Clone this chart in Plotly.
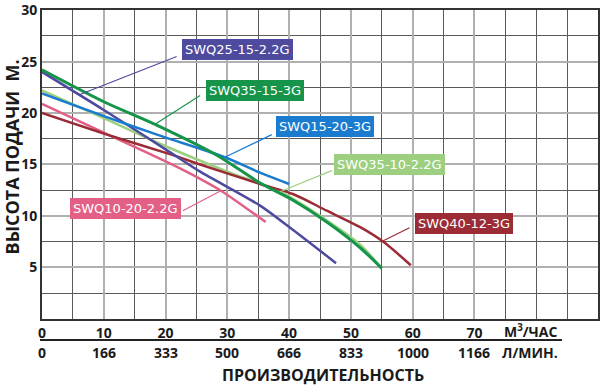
import plotly.graph_objects as go

# ---- data (flow in m3/h, head in m) ----
swq25_15_x = [0, 10, 20.7, 25.6, 35.3, 40.7, 47.6]
swq25_15_y = [24.0, 20.3, 16.2, 14.3, 11.0, 8.6, 5.4]

swq35_15_x = [0, 10, 18.3, 28.3, 35.3, 40.7, 46.1, 51.5, 55.0]
swq35_15_y = [24.2, 21.1, 18.9, 15.9, 13.2, 11.5, 9.4, 6.9, 4.9]

swq15_20_x = [0, 10, 19.1, 29.6, 35.3, 40.0]
swq15_20_y = [21.9, 19.7, 17.8, 15.7, 14.2, 13.1]

swq35_10_x = [0, 10, 20.7, 30, 38.5, 46.0, 51.5, 54.7]
swq35_10_y = [22.2, 19.5, 16.6, 14.3, 12.35, 9.6, 7.2, 5.1]

swq10_20_x = [0, 10, 20.7, 25.6, 29.1, 36.2]
swq10_20_y = [20.9, 18.1, 15.1, 13.6, 12.4, 9.4]

swq40_12_x = [0, 10, 20.7, 25.6, 35.3, 40.7, 46.1, 51.5, 55.2, 59.7]
swq40_12_y = [20.0, 18.0, 16.0, 15.0, 13.1, 12.1, 10.5, 8.9, 7.5, 5.2]

series_names = ["SWQ25-15-2.2G", "SWQ35-15-3G", "SWQ15-20-3G",
                "SWQ35-10-2.2G", "SWQ10-20-2.2G", "SWQ40-12-3G"]

flow_ticks = [0, 10, 20, 30, 40, 50, 60, 70]
flow_lmin_labels = ["0", "166", "333", "500", "666", "833", "1000", "1166"]
head_ticks = [5, 10, 15, 20, 25, 30]
unit_m3h = "М<sup>3</sup>/ЧАС"
unit_lmin = "Л/МИН."
x_title = "ПРОИЗВОДИТЕЛЬНОСТЬ"
y_title = "ВЫСОТА ПОДАЧИ  М."

# ---- styles ----
colors = ["#4e4a9e", "#16954a", "#1b7bcf", "#9ccf80", "#e35f86", "#9b2b34"]
widths = [2.5, 3, 2.5, 2.5, 2.5, 2.5]
label_pos = [(31.6, 26.15), (34.5, 22.2), (45.8, 18.65), (56.3, 15.0), (13.5, 10.7), (68.3, 9.3)]
leader = [((21.8, 25.5), (6.15, 21.8)), ((25.6, 21.7), (18.3, 18.9)),
          ((37.2, 17.9), (29.6, 15.7)), ((46.9, 14.4), (38.5, 12.35)),
          ((22.8, 10.5), (29.1, 12.5)), ((59.5, 8.85), (55.0, 7.5))]

xs = [swq25_15_x, swq35_15_x, swq15_20_x, swq35_10_x, swq10_20_x, swq40_12_x]
ys = [swq25_15_y, swq35_15_y, swq15_20_y, swq35_10_y, swq10_20_y, swq40_12_y]

fig = go.Figure()
order = [3, 4, 5, 0, 2, 1]
for i in order:
    fig.add_trace(go.Scatter(x=xs[i], y=ys[i], mode="lines", name=series_names[i],
                             line=dict(color=colors[i], width=widths[i], shape="spline", smoothing=0.8),
                             showlegend=False, hoverinfo="skip"))

shapes = []
annotations = []
for i, name in enumerate(series_names):
    (x0, y0), (x1, y1) = leader[i]
    shapes.append(dict(type="line", xref="x", yref="y", x0=x0, y0=y0, x1=x1, y1=y1,
                       line=dict(color=colors[i], width=1.2), layer="above"))
    annotations.append(dict(x=label_pos[i][0], y=label_pos[i][1], xref="x", yref="y",
                            text=name, showarrow=False, bgcolor=colors[i], bordercolor=colors[i],
                            borderpad=2, font=dict(family="DejaVu Sans", size=13, color="white")))

H = 385
PT = 6
ph = H - PT
def py(px):
    return (H - px) / ph

axis_font = dict(family="Open Sans", size=14, color="#1a1a1a")
for v, t in zip(flow_ticks, flow_lmin_labels):
    annotations.append(dict(x=v, y=py(352), xref="x", yref="paper", text="<b>%s</b>" % t,
                            showarrow=False, font=axis_font, yanchor="middle"))
annotations.append(dict(x=79, y=py(352), xref="x", yref="paper", text="<b>%s</b>" % unit_lmin,
                        showarrow=False, font=axis_font, yanchor="middle"))
annotations.append(dict(x=79, y=py(330), xref="x", yref="paper", text="<b>%s</b>" % unit_m3h,
                        showarrow=False, font=axis_font, yanchor="middle"))
annotations.append(dict(x=(323 - 42) / 556, y=py(375), xref="paper", yref="paper",
                        text="<b>%s</b>" % x_title, showarrow=False, yanchor="middle",
                        font=dict(family="Open Sans", size=16, color="#1a1a1a")))
annotations.append(dict(x=(12 - 42) / 556, y=py(155), xref="paper", yref="paper",
                        text="<b>%s</b>" % y_title, showarrow=False, textangle=-90,
                        xanchor="center", yanchor="middle",
                        font=dict(family="Open Sans", size=18, color="#1a1a1a")))

shapes.append(dict(type="line", xref="paper", yref="paper", x0=(40 - 42) / 556, x1=(562 - 42) / 556,
                   y0=py(339.5), y1=py(339.5), line=dict(color="#222222", width=2)))

fig.update_layout(
    width=600, height=385,
    margin=dict(l=42, r=2, t=PT, b=0),
    paper_bgcolor="white", plot_bgcolor="white",
    shapes=shapes, annotations=annotations,
    xaxis=dict(range=[0, 90], tickmode="array", tickvals=flow_ticks,
               ticktext=["<b>%d</b>" % v for v in flow_ticks],
               tickfont=axis_font, ticks="", showgrid=True, gridcolor="#b0b0b0", gridwidth=1.5,
               minor=dict(tickmode="linear", tick0=0, dtick=5, showgrid=True, gridcolor="#5a5a5a", gridwidth=1),
               showline=True, mirror=True, linecolor="#333333", linewidth=2, zeroline=False,
               fixedrange=True),
    yaxis=dict(range=[0, 30.02], domain=[(H - 318) / ph, 1], tickmode="array", tickvals=head_ticks,
               ticktext=["<b>%d</b>" % v for v in head_ticks], ticklabeloverflow="allow",
               tickfont=axis_font, ticks="", showgrid=True, gridcolor="#b0b0b0", gridwidth=1.5,
               minor=dict(tickmode="linear", tick0=0, dtick=2.5, showgrid=True, gridcolor="#5a5a5a", gridwidth=1),
               showline=True, mirror=True, linecolor="#333333", linewidth=2, zeroline=False,
               fixedrange=True),
)

fig.write_html("out.html", config={"displayModeBar": False},
               post_script="document.body.style.margin='0';document.body.style.padding='0';")
